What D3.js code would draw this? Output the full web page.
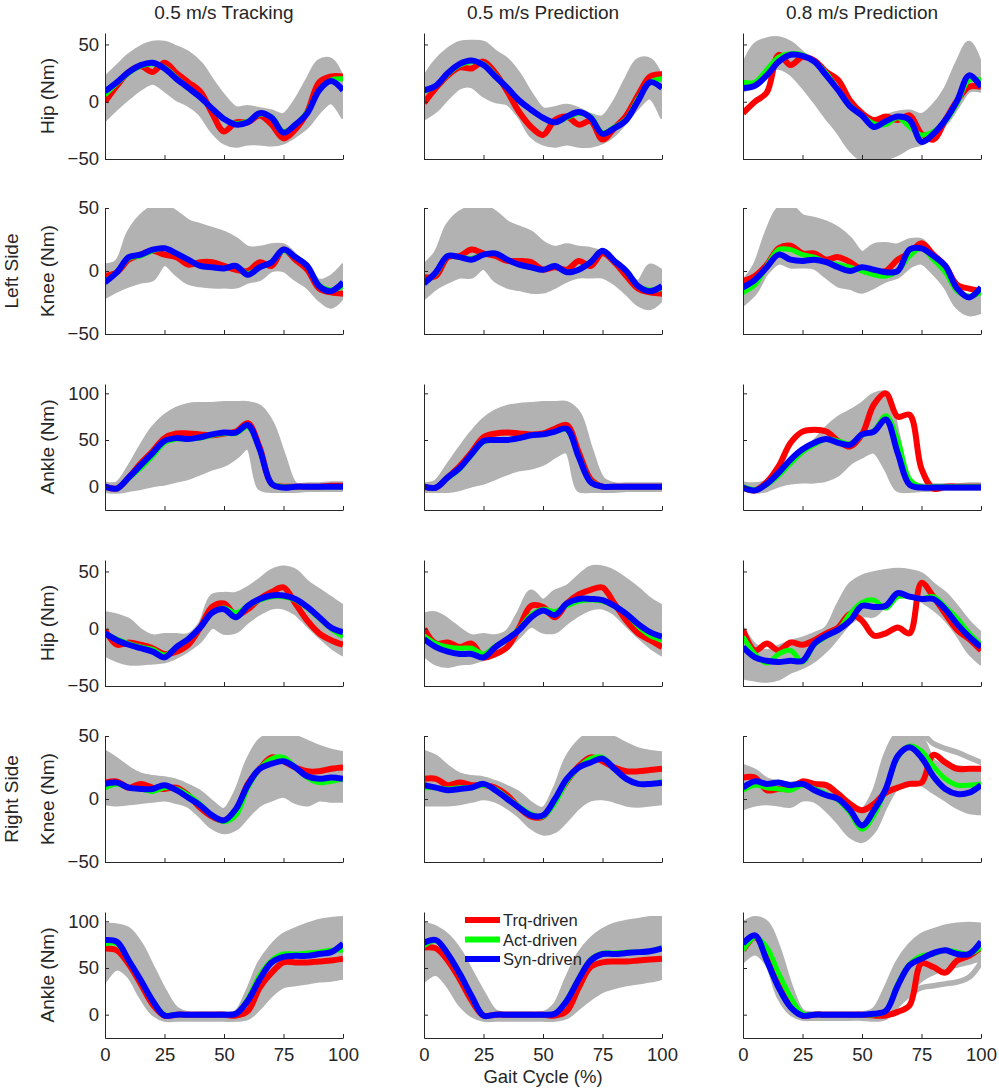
<!DOCTYPE html>
<html>
<head>
<meta charset="utf-8">
<script src="https://cdn.jsdelivr.net/npm/d3@7"></script>
<style>
body { margin: 0; background: #fff; }
text { font-family: "Liberation Sans", Arial, Helvetica, sans-serif; fill: #262626; }
</style>
</head>
<body>
<script>
// gait cycle sample points (%)
const pct = [0,5,10,15,20,25,30,35,40,45,50,55,60,65,70,75,80,85,90,95,100];

const columnTitles = ["0.5 m/s Tracking", "0.5 m/s Prediction", "0.8 m/s Prediction"];
const jointLabels = ["Hip (Nm)", "Knee (Nm)", "Ankle (Nm)", "Hip (Nm)", "Knee (Nm)", "Ankle (Nm)"];
const sideLabels = [{ text: "Left Side", row: 1 }, { text: "Right Side", row: 4 }];
const yDomains = [[-50, 60], [-50, 50], [-25, 110], [-50, 60], [-50, 50], [-25, 110]];
const yTicks = [[-50, 0, 50], [-50, 0, 50], [0, 50, 100], [-50, 0, 50], [-50, 0, 50], [0, 50, 100]];
const xTicks = [0, 25, 50, 75, 100];
const legendNames = ["Trq-driven", "Act-driven", "Syn-driven"];
const seriesColors = ["#ff0000", "#00ff00", "#0000ff"];

// experimental spread (gray): upper and lower envelope, [row][col]
const grayUpper = [
  [[20,30,40,47,51,51,47,42,33,18,4,-6,-5,-7,-9,-12,0,18,35,36,18],
   [20,35,45,51,52,51,43,36,23,6,-7,-6,-4,-7,-12,-14,-1,19,36,36,19],
   [30,49,54,55,51,42,35,22,7,-4,-13,-16,-13,-10,-9,-12,-4,10,33,51,30]],
  [[4,7,30,43,50,51,46,39,36,33,30,25,18,18,20,20,12,2,-8,-5,4],
   [4,14,36,46,50,51,46,38,34,30,22,18,20,18,17,14,7,-1,-9,4,-1],
   [-9,4,30,49,51,43,41,38,33,25,14,20,21,20,24,24,12,1,-14,-20,-20]],
  [[3,3,20,42,62,75,83,87,88,88,89,89,89,85,68,33,2,2,2,3,3],
   [2,5,22,40,57,71,80,85,87,88,89,89,89,78,40,8,2,2,2,2,2],
   [3,2,5,13,25,36,48,62,73,80,88,98,100,55,5,1,1,1,1,2,2]],
  [[13,11,7,-2,-7,-6,-6,-6,4,28,30,30,35,42,50,53,50,40,33,26,19],
   [12,13,7,-1,-7,-6,-7,-3,14,32,24,32,36,45,53,53,49,42,34,25,19],
   [-1,-15,-20,-16,-12,-9,-5,0,20,38,45,48,50,51,50,47,38,30,18,5,-5]],
  [[37,31,24,19,17,16,14,10,5,-3,-9,5,30,46,51,52,49,45,41,38,36],
   [37,33,25,19,17,16,13,9,4,-4,-8,8,32,45,52,52,48,43,39,37,36],
   [26,22,15,13,12,13,11,8,2,-5,-9,5,35,52,53,48,30,26,25,24,22]],
  [[96,95,91,75,50,25,6,1,1,1,1,2,25,55,73,85,91,96,100,102,103],
   [97,93,84,68,45,22,3,1,1,1,1,10,38,64,80,90,96,99,101,103,103],
   [97,103,98,70,30,3,1,1,1,1,1,5,28,56,74,85,90,94,96,97,96]]
];

const grayLower = [
  [[-15,-5,4,12,17,11,3,-2,-10,-25,-35,-38,-36,-36,-37,-35,-29,-21,-8,0,-13],
   [-14,-7,4,13,14,6,1,-1,-12,-29,-36,-38,-36,-38,-38,-35,-28,-16,-4,4,-13],
   [10,16,26,30,25,14,1,-13,-26,-41,-50,-50,-49,-45,-39,-36,-29,-19,-4,10,10]],
  [[-20,-15,-11,-8,-6,6,-2,-9,-11,-12,-12,-12,-8,-6,1,1,-6,-12,-22,-28,-20],
   [-21,-13,-8,-4,-4,3,-7,-12,-14,-16,-16,-12,-7,-4,-4,-4,-9,-17,-26,-29,-22],
   [-26,-17,-1,7,4,4,3,-4,-11,-13,-16,-12,-7,-4,4,7,-1,-12,-28,-34,-32]],
  [[-4,-5,-3,-1,2,4,7,10,15,20,24,32,42,-1,-4,-4,-4,-3,-3,-3,-3],
   [-4,-4,-4,-2,2,5,10,15,19,21,25,33,38,-3,-4,-4,-4,-3,-3,-3,-3],
   [-2,-5,-3,2,5,6,6,8,14,26,33,38,20,-3,-4,-3,-3,-2,-2,-2,-2]],
  [[-22,-27,-30,-30,-29,-28,-24,-18,-10,2,-3,-2,7,14,19,19,14,4,-6,-15,-22],
   [-22,-30,-32,-30,-29,-26,-23,-16,-6,3,-2,-2,6,13,18,19,14,4,-6,-15,-22],
   [-42,-44,-45,-43,-37,-33,-27,-18,-6,6,12,12,22,30,30,25,18,9,-4,-20,-30]],
  [[-3,-4,-3,-2,-1,0,-2,-5,-13,-22,-26,-23,-13,-4,0,3,-2,-4,0,-1,-1],
   [-4,-4,-4,-3,-1,1,-1,-6,-13,-22,-27,-25,-16,-6,0,1,-1,-4,-5,-4,-3],
   [-7,-4,-3,-4,-5,0,-1,-8,-18,-29,-33,-25,-5,10,13,12,6,0,-6,-10,-11]],
  [[37,50,42,20,2,-5,-5,-5,-5,-5,-5,-5,-3,8,22,31,33,35,37,38,40],
   [37,44,32,12,0,-5,-5,-5,-5,-5,-5,-5,-2,8,18,26,30,33,35,37,40],
   [58,66,55,20,2,-4,-4,-4,-4,-4,-4,-5,-3,10,25,38,45,50,53,56,60]]
];

// single gray trials that leave the main spread
const grayOutlier = [
  { row: 4, col: 2, values: [null,null,null,null,null,null,null,null,null,null,null,null,null,null,53,52,44,40,37,33,29] },
  { row: 5, col: 2, values: [null,null,null,null,null,null,null,null,null,null,null,null,-1,11,22,29,31,33,35,40,56] }
];

const trqDriven = [
  [[0,14,26,31,26,34,25,17,9,-10,-26,-18,-18,-12,-20,-32,-24,-9,17,22,22],
   [-1,12,23,30,29,35,25,9,-9,-22,-29,-16,-13,-20,-17,-33,-23,-12,6,22,24],
   [-10,0,8,41,32,39,36,26,19,1,-10,-16,-13,-16,-12,-28,-33,-16,1,13,13]],
  [[-4,-1,9,13,16,13,11,5,7,7,4,1,0,7,4,17,9,1,-14,-17,-18],
   [-5,-4,11,12,17,14,12,8,8,7,1,3,1,8,4,14,7,-4,-14,-17,-18],
   [-8,-4,5,18,20,14,14,9,11,7,1,-1,0,9,14,22,13,4,-11,-14,-16]],
  [[0,-2,10,25,38,52,57,57,56,55,57,59,68,42,3,0,0,0,0,1,1],
   [0,-1,10,22,37,53,57,58,57,56,57,62,66,37,8,0,0,0,0,0,0],
   [-1,-4,5,22,47,59,61,59,49,43,56,88,100,75,77,19,-2,0,0,0,0]],
  [[-1,-14,-12,-14,-17,-22,-20,-14,1,19,22,12,17,26,32,36,22,7,-4,-10,-14],
   [0,-13,-12,-16,-13,-25,-22,-16,1,20,19,10,22,30,34,36,22,7,-4,-10,-16],
   [-1,-19,-13,-19,-12,-14,-10,-4,1,13,7,-6,-4,1,-4,40,28,13,-1,-9,-19]],
  [[13,14,9,12,9,8,9,3,-7,-14,-17,-9,12,24,33,30,25,22,22,24,25],
   [16,16,11,13,11,11,9,3,-7,-14,-14,-1,14,26,33,30,25,22,22,23,24],
   [17,17,7,8,8,14,12,11,4,-4,-9,-4,5,9,12,13,35,29,24,24,24]],
  [[71,69,54,33,11,-1,0,0,0,0,0,-1,4,29,45,56,56,56,57,58,60],
   [72,71,58,38,15,-1,0,0,0,0,0,-1,4,29,51,56,57,57,58,59,60],
   [69,83,65,33,11,-1,0,0,0,0,0,-1,-1,3,10,55,51,45,58,63,72]]
];

const actDriven = [
  [[6,16,25,31,33,30,21,12,4,-6,-15,-19,-17,-11,-13,-26,-20,-9,10,19,20],
   [9,14,24,32,35,33,23,12,1,-7,-14,-18,-14,-10,-13,-27,-22,-15,3,17,20],
   [17,17,28,39,42,41,35,25,10,-3,-12,-19,-20,-14,-22,-29,-26,-17,-1,19,19]],
  [[-8,-1,10,12,16,18,14,9,4,3,2,4,-2,3,7,16,11,4,-11,-15,-12],
   [-9,-2,12,11,10,13,14,9,5,3,1,4,-1,1,7,16,8,0,-12,-15,-14],
   [-17,-11,4,17,17,13,11,7,5,3,0,-3,-4,0,12,18,9,-1,-16,-20,-17]],
  [[0,-2,9,20,33,47,51,51,52,55,57,57,64,40,4,0,0,0,0,0,0],
   [0,-1,9,19,34,48,50,50,52,55,56,59,61,33,6,0,0,0,0,0,0],
   [0,-3,2,12,25,37,45,51,49,46,55,60,76,50,8,0,0,0,0,0,0]],
  [[-4,-9,-13,-16,-18,-23,-16,-9,1,14,18,14,20,25,28,28,25,18,9,0,-7],
   [-6,-13,-16,-17,-17,-22,-15,-9,0,12,17,15,20,24,25,24,20,13,2,-6,-10],
   [-7,-22,-30,-22,-19,-29,-14,-7,-1,13,23,25,18,28,28,26,28,19,9,-4,-14]],
  [[9,12,9,8,6,9,8,3,-4,-13,-18,-13,9,24,32,33,25,17,13,14,16],
   [9,9,8,9,9,11,8,1,-6,-12,-14,-3,14,25,32,33,24,16,12,12,14],
   [7,11,9,8,7,11,8,4,-1,-11,-24,-13,8,33,42,38,26,16,11,11,12]],
  [[76,76,58,37,15,0,0,0,0,0,0,1,17,42,58,65,65,66,67,69,69],
   [74,79,65,44,20,-1,0,0,0,0,0,1,16,39,59,66,66,67,67,68,72],
   [69,83,72,44,19,1,0,0,0,0,0,0,4,33,54,63,65,69,67,65,72]]
];

const synDriven = [
  [[9,17,26,32,34,29,20,12,4,-6,-15,-20,-18,-10,-14,-27,-20,-10,10,18,10],
   [10,14,25,33,36,32,22,12,1,-7,-14,-18,-13,-9,-14,-28,-23,-16,1,17,12],
   [12,14,23,35,41,40,35,23,10,-4,-12,-22,-17,-13,-16,-35,-28,-16,1,23,13]],
  [[-9,-1,11,13,17,18,14,9,4,3,2,4,-3,3,7,17,11,4,-12,-16,-9],
   [-10,-1,12,11,9,13,14,9,5,3,1,4,-1,1,7,16,8,0,-12,-16,-12],
   [-13,-7,3,13,9,8,9,7,3,0,3,1,-1,0,17,18,12,4,-14,-21,-13]],
  [[0,-2,10,23,36,49,52,51,53,56,58,58,66,40,3,-1,0,0,0,0,0],
   [0,-1,10,20,35,49,50,50,52,55,56,59,62,32,5,0,0,0,0,0,0],
   [-1,-4,3,15,29,40,47,51,47,45,56,59,72,36,2,-1,-1,-1,-1,-1,-1]],
  [[-4,-10,-14,-17,-20,-25,-16,-9,1,14,17,10,20,26,29,29,26,19,10,1,-3],
   [-9,-16,-20,-22,-22,-25,-16,-9,-1,10,16,12,22,26,26,25,20,13,4,-3,-7],
   [-16,-25,-28,-29,-28,-28,-13,-6,-1,7,20,19,20,31,28,26,26,17,4,-7,-16]],
  [[12,13,9,8,8,11,7,1,-5,-13,-17,-8,11,24,28,30,25,18,16,17,16],
   [11,9,7,8,9,12,7,0,-7,-13,-13,0,16,25,29,32,24,16,12,12,13],
   [9,14,12,13,11,12,7,3,0,-9,-21,-9,8,34,41,33,18,8,4,5,11]],
  [[80,78,58,37,15,-1,0,0,0,0,0,1,15,38,56,62,63,63,65,67,76],
   [77,80,65,44,20,-1,0,0,0,0,0,1,15,38,58,65,65,66,67,68,71],
   [76,85,58,29,8,-1,0,0,0,0,0,1,4,31,53,60,66,69,65,65,78]]
];

const W = 999, H = 1088;
const plotW = 238, plotH = 126;
const colLeft = [105, 424, 743];
const rowTop = [33, 208, 384, 560, 736, 912];
const axisColor = "#262626";
const gray = "#b2b2b2";

const svg = d3.select("body").append("svg")
    .attr("width", W)
    .attr("height", H);

const fmtY = d => d < 0 ? "\u2212" + Math.abs(d) : String(d);

// column titles
svg.selectAll(".col-title")
  .data(columnTitles)
  .enter().append("text")
    .attr("class", "col-title")
    .attr("x", (d, i) => colLeft[i] + plotW / 2)
    .attr("y", 19)
    .attr("text-anchor", "middle")
    .style("font-size", "19px")
    .text(d => d);

// side labels
sideLabels.forEach(s => {
  const cy = rowTop[s.row] + plotH / 2;
  svg.append("text")
    .attr("transform", `translate(18,${cy}) rotate(-90)`)
    .attr("text-anchor", "middle")
    .style("font-size", "19px")
    .text(s.text);
});

// joint labels
jointLabels.forEach((lab, r) => {
  const cy = rowTop[r] + plotH / 2;
  svg.append("text")
    .attr("transform", `translate(54,${cy}) rotate(-90)`)
    .attr("text-anchor", "middle")
    .style("font-size", "19px")
    .text(lab);
});

const defs = svg.append("defs");

for (let r = 0; r < 6; r++) {
  for (let c = 0; c < 3; c++) {
    const x = d3.scaleLinear().domain([0, 100]).range([colLeft[c], colLeft[c] + plotW]);
    const y = d3.scaleLinear().domain(yDomains[r]).range([rowTop[r] + plotH, rowTop[r]]);

    const clipId = `clip-${r}-${c}`;
    defs.append("clipPath").attr("id", clipId)
      .append("rect")
        .attr("x", colLeft[c]).attr("y", rowTop[r])
        .attr("width", plotW).attr("height", plotH);

    const g = svg.append("g").attr("clip-path", `url(#${clipId})`);

    const curve = d3.curveCatmullRom.alpha(0.5);
    const hi = grayUpper[r][c], lo = grayLower[r][c];

    const band = d3.area()
        .x((d, i) => x(pct[i]))
        .y0((d, i) => y(lo[i]))
        .y1(d => y(d))
        .curve(curve);

    g.append("path")
      .attr("d", band(hi))
      .attr("fill", gray)
      .attr("stroke", gray)
      .attr("stroke-width", 5)
      .attr("stroke-linejoin", "round");

    const line = d3.line()
        .defined(d => d != null)
        .x((d, i) => x(pct[i]))
        .y(d => y(d))
        .curve(curve);

    grayOutlier.filter(o => o.row === r && o.col === c).forEach(o => {
      g.append("path")
        .attr("d", line(o.values))
        .attr("fill", "none")
        .attr("stroke", gray)
        .attr("stroke-width", 5.5)
        .attr("stroke-linecap", "round");
    });

    [trqDriven, actDriven, synDriven].forEach((s, k) => {
      g.append("path")
        .attr("d", line(s[r][c]))
        .attr("fill", "none")
        .attr("stroke", seriesColors[k])
        .attr("stroke-width", k === 1 ? 5 : 6)
        .attr("stroke-linejoin", "round");
    });

    // axes (box off, ticks pointing inward)
    const yAxis = d3.axisLeft(y)
        .tickValues(yTicks[r])
        .tickSizeInner(-4)
        .tickSizeOuter(0)
        .tickPadding(6)
        .tickFormat(c === 0 ? fmtY : () => "");
    const ya = svg.append("g")
        .attr("transform", `translate(${colLeft[c]},0)`)
        .call(yAxis);

    const xAxis = d3.axisBottom(x)
        .tickValues(xTicks)
        .tickSizeInner(-4)
        .tickSizeOuter(0)
        .tickPadding(10)
        .tickFormat(r === 5 ? d => d : () => "");
    const xa = svg.append("g")
        .attr("transform", `translate(0,${rowTop[r] + plotH})`)
        .call(xAxis);

    [ya, xa].forEach(a => {
      a.select(".domain").attr("stroke", axisColor);
      a.selectAll(".tick line").attr("stroke", axisColor);
      a.selectAll(".tick text")
        .attr("fill", axisColor)
        .style("font-family", "'Liberation Sans', Arial, sans-serif")
        .style("font-size", "18.5px");
    });

    // legend sits inside the bottom middle panel
    if (r === 5 && c === 1) {
      const lg = svg.append("g")
          .attr("transform", `translate(${colLeft[c] + 41},${rowTop[r] + 8})`);
      legendNames.forEach((name, k) => {
        lg.append("line")
          .attr("x1", 0).attr("x2", 35)
          .attr("y1", k * 19.5).attr("y2", k * 19.5)
          .attr("stroke", seriesColors[k])
          .attr("stroke-width", 6);
        lg.append("text")
          .attr("x", 38)
          .attr("y", k * 19.5 + 6)
          .style("font-size", "16.5px")
          .text(name);
      });
    }
  }
}

svg.append("text")
  .attr("x", colLeft[1] + plotW / 2)
  .attr("y", 1083)
  .attr("text-anchor", "middle")
  .style("font-size", "18.5px")
  .text("Gait Cycle (%)");
</script>
</body>
</html>
